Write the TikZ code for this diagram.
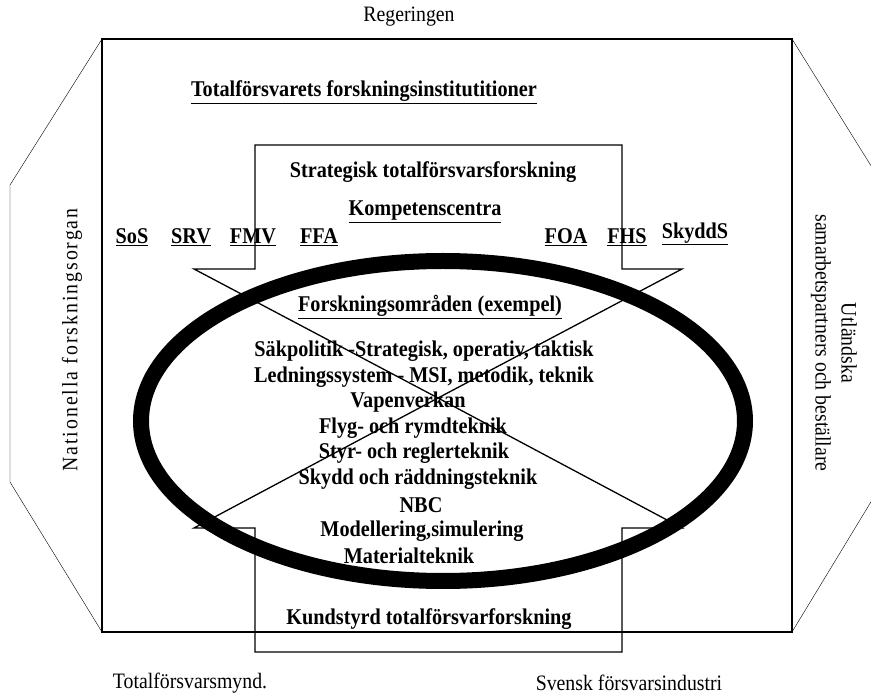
\documentclass[tikz,border=0pt]{standalone}
\usepackage{fontspec}
\setmainfont[FakeStretch=0.9]{Liberation Serif}
\begin{document}
\begin{tikzpicture}[x=1pt,y=-1pt,
    plain/.style={font=\fontsize{22}{26}\selectfont},
    bold/.style={font=\fontsize{22.5}{26}\selectfont\bfseries},
    frame/.style={line width=2pt},
    arrowline/.style={line width=1.3pt,line join=miter}
  ]
  \useasboundingbox (0,0) rectangle (871,700);
  % outer frame with side wings
  \draw[frame] (102,39) rectangle (792,632);
  \draw (102,39) -- (10,185) -- (10,482) -- (102,632);
  \draw (792,39) -- (883,185) -- (883,482) -- (792,632);
  % the two big arrows
  \draw[arrowline] (255,269) -- (255,145) -- (622,145) -- (622,269)
    -- (682,269) -- (438,398) -- (194,269) -- cycle;
  \draw[arrowline] (255,528) -- (255,652) -- (622,652) -- (622,528)
    -- (682,528) -- (438,398) -- (194,528) -- cycle;
  % ring
  \draw[line width=16pt] (443,421) ellipse [x radius=302, y radius=160];
  \draw
    (409,17) node[plain] (reg){Regeringen}
    (190,683) node[plain] (mynd){Totalförsvarsmynd.}
    (629,683) node[plain] (ind){Svensk försvarsindustri}
    (72,340) node[plain,rotate=90] (nat){\addfontfeatures{LetterSpace=9}Nationella forskningsorgan}
    (834,343) node[plain,rotate=-90,align=center] (utl){Utländska\\samarbetspartners och beställare};
  \draw
    (364,92) node[bold] (inst){\underline{Totalförsvarets forskningsinstitutitioner}}
    (433,172) node[bold] (strat){Strategisk totalförsvarsforskning}
    (425,212) node[bold] (komp){\underline{Kompetenscentra}}
    (430,307) node[bold] (omr){\underline{Forskningsområden (exempel)}}
    (429,619) node[bold] (kund){Kundstyrd totalförsvarforskning};
  % institutions
  \draw
    (132,237) node[bold] (sos){\underline{SoS}}
    (191,237) node[bold] (srv){\underline{SRV}}
    (253,237) node[bold] (fmv){\underline{FMV}}
    (319,237) node[bold] (ffa){\underline{FFA}}
    (566,237) node[bold] (foa){\underline{FOA}}
    (627,237) node[bold] (fhs){\underline{FHS}}
    (695,234) node[bold] (skydd){\underline{SkyddS}};
  % research areas
  \draw
    (424,351) node[bold] (a1){Säkpolitik -Strategisk, operativ, taktisk}
    (424,377) node[bold] (a2){Ledningssystem - MSI, metodik, teknik}
    (408,402) node[bold] (a3){Vapenverkan}
    (413,428) node[bold] (a4){Flyg- och rymdteknik}
    (414,453) node[bold] (a5){Styr- och reglerteknik}
    (418,479) node[bold] (a6){Skydd och räddningsteknik}
    (421,505) node[bold] (a7){NBC}
    (422,531) node[bold] (a8){Modellering,simulering}
    (409,556) node[bold] (a9){Materialteknik};
\end{tikzpicture}
\end{document}
